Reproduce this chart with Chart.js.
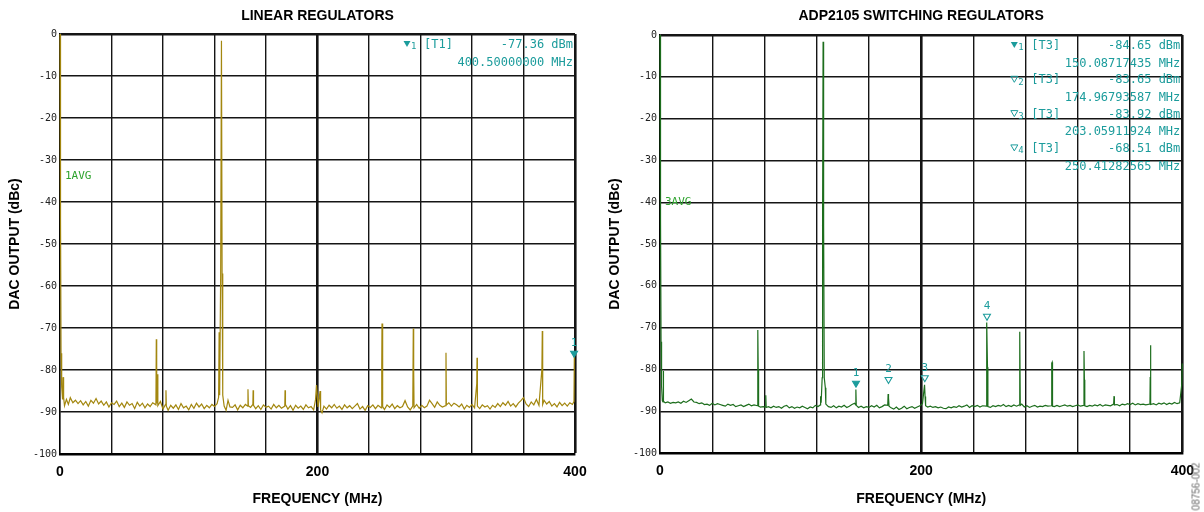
<!DOCTYPE html>
<html>
<head>
<meta charset="utf-8">
<script src="https://cdn.jsdelivr.net/npm/chart.js@4.4.0/dist/chart.umd.min.js"></script>
<style>
    body { margin: 0; background: #fff; width: 1204px; height: 512px; position: relative; overflow: hidden; }
    .box { position: absolute; top: 0; height: 512px; }
    #leftBox { left: 0; width: 600px; }
    #rightBox { left: 600px; width: 604px; }
    #figId { position: absolute; left: 1166px; top: 481px; width: 60px; line-height: 14px; text-align: center;
             transform: rotate(-90deg); font: 10px "Liberation Sans", sans-serif; color: #666; }
</style>
</head>
<body>
<div class="box" id="leftBox"><canvas id="leftChart"></canvas></div>
<div class="box" id="rightBox"><canvas id="rightChart"></canvas></div>
<div id="figId">08756-002</div>
<script>
'use strict';

// x grid / labels
const xGridStep = 40;
const xTickLabels = [0, 200, 400];
const yGridStep = 10;

// linear regulators trace: [MHz, dBc]
const leftTrace = [
    [0, 0], [0.4, -44], [0.8, -76], [1.3, -84], [2, -87], [2.4, -81.7], [2.8, -86.5], [3.5, -88.5],
    [5, -87], [6.5, -88.2], [8, -86.6], [10, -87.8], [12, -87.2], [14, -88], [16, -87.3], [18, -88.3],
    [20, -87.5], [22, -88.6], [24, -87.2], [26, -87.9], [28, -86.8], [30, -88.1], [32, -87.4], [34, -88.4],
    [36, -87.6], [38, -88.8], [40, -87.8], [42, -88.2], [44, -87.4], [46, -88.7], [48, -87.9], [50, -88.9],
    [52, -87.6], [54, -88.4], [56, -88], [58, -89.2], [60, -87.7], [62, -88.6], [64, -87.9], [66, -89],
    [68, -88.1], [70, -88.7], [72, -87.8], [74.5, -88.3], [74.8, -72.7], [75.1, -88], [75.6, -81], [76, -88.5],
    [78, -87.5], [80, -89.3], [82, -88.2], [82.3, -84.8], [82.6, -88.6], [84, -89.6], [86, -88.4], [88, -89.1],
    [90, -88.3], [92, -89.4],
    [94, -88], [96, -89], [98, -88.6], [100, -89.5], [102, -88.2], [104, -89.1], [106, -87.9], [108, -88.8],
    [110, -88.1], [112, -89.2], [114, -88.4], [116, -89], [118, -88.2], [120, -88.7], [122, -88],
    [123.2, -86.5], [123.6, -71], [124, -86], [124.8, -57], [125.4, -1.6], [125.9, -57], [126.4, -86],
    [127.5, -88.6], [129, -89.6], [130.5, -87.2], [132, -88.8], [134, -88.9], [136, -88.3], [138, -89.5],
    [140, -88.4], [142, -89], [144, -88.2], [145.8, -88.6], [146, -84.6], [146.3, -88.5], [148, -88.9],
    [149.8, -88.2], [150, -84.8], [150.3, -88.4], [152, -89.2], [154, -88.5], [156, -89.4], [158, -88.3],
    [160, -88.9], [162, -88.6], [164, -89.3], [166, -88.2], [168, -89], [170, -88.4], [172, -89.1],
    [174.6, -88.6], [174.8, -84.8], [175.1, -88.2], [177, -89.3], [179, -88.5], [181, -89.6], [183, -88.4],
    [185, -89.1], [187, -88.6], [189, -89.4], [191, -88.3], [193, -89], [195, -88.7], [197, -89.5],
    [198.5, -87], [199.2, -83.6], [199.8, -86], [200.4, -88.8], [202, -85], [202.4, -89.5], [203.5, -90.2],
    [205, -88.6], [207, -89.3], [209, -88.4], [211, -89], [213, -88.2], [215, -89.1], [217, -88.6],
    [219, -89.4], [221, -88.3], [223, -89], [225, -88.5], [227, -89.2], [229, -88.6], [231, -88],
    [233, -89.3], [235, -88.7], [237, -89.6], [239, -88.5], [241, -88.9], [243, -88.3], [245, -89.2],
    [247, -88.4], [249.5, -89], [249.9, -79.2], [250.1, -68.9], [250.4, -79], [250.8, -88.7], [252, -89.4],
    [254, -88.3], [256, -88.9], [258, -88.1], [260, -89.2], [262, -88.5], [264, -89], [266, -88.7],
    [268, -87.3], [270, -88.8], [272, -89.5], [274, -88.6], [274.4, -70.1], [274.7, -79.8], [275, -89],
    [277, -88.2], [279, -89.1], [281, -88.4], [283, -89], [285, -88.6], [287, -87.2], [289, -88],
    [291, -88.9], [293, -87.6], [295, -88.4], [297, -88.8], [299.5, -88.5], [299.8, -75.9], [300.1, -88.3],
    [302, -87.8], [304, -88.6], [306, -87.9], [308, -88.3], [310, -88.8], [312, -88.1], [314, -89.3],
    [316, -88.4], [318, -88.9], [320, -88.2], [322, -89], [323.7, -83.2], [323.9, -77.1], [324.2, -88.6],
    [326, -89.2], [328, -88.3], [330, -88.8], [332, -88.5], [334, -89.3], [336, -88.4], [338, -88.9],
    [340, -88], [342, -88.7], [344, -87.8], [346, -88.4], [348, -87.5], [350, -88.6], [352, -88],
    [354, -88.8], [356, -87.9], [358, -87.3], [360, -86.6], [362, -88.1], [364, -88.7], [366, -87.6],
    [368, -88.3], [370, -87], [372, -88.4], [374.3, -79.8], [374.6, -70.7], [374.9, -88.2], [376, -87.2],
    [378, -88.1], [380, -87.5], [382, -88.6], [384, -88], [386, -88.8], [388, -87.7], [390, -88.5],
    [392, -87.9], [394, -88.6], [396, -87.8], [398, -88.2], [399.2, -87.5], [399.5, -76.4], [400, -76.4]
];

// ADP2105 switching regulators trace: [MHz, dBc]
const rightTrace = [
    [0, 0], [0.4, -44], [0.8, -73.4], [1.2, -84], [1.8, -87.5], [2.3, -87.8], [2.5, -80.4], [2.8, -87.6],
    [4, -88], [6, -87.8], [8, -88.1], [10, -87.9], [12, -88], [14, -87.8], [16, -88.1], [18, -87.6],
    [20, -87.9], [22, -87.5], [24, -87.1], [26, -87.8], [28, -87.9], [30, -88.2], [32, -88], [34, -88.4],
    [36, -88.3], [38, -88.6], [40, -88.1], [42, -88.5], [44, -88.2], [46, -88.4], [48, -88.6], [50, -88.8],
    [52, -88.3], [54, -88.6], [56, -88.4], [58, -88.9], [60, -88.7], [62, -88.5], [64, -88.9], [66, -88.6],
    [68, -88.3], [70, -88.7], [72, -88.5], [74.6, -88.7], [74.9, -70.6], [75.2, -79.9], [75.5, -88.8],
    [77, -89], [79, -88.9], [80.7, -89], [81, -86.2], [81.3, -89.1], [83, -88.9], [85, -89.2], [87, -88.8],
    [89, -89.1], [91, -88.9], [93, -89.3], [95, -88.8], [97, -88.6], [99, -89.2], [101, -88.9], [103, -89.3],
    [105, -89], [107, -89.2], [109, -88.8], [111, -89.1], [113, -89.4], [115, -89], [117, -89.2],
    [119, -88.6], [121, -88.9], [122.8, -88.5], [123, -86.4], [123.4, -88], [124.2, -82], [124.5, -45.5],
    [124.9, -1.6], [125.3, -45.5], [125.8, -82], [126.6, -84.4], [127, -88.3], [129, -88.9], [131, -89.1],
    [133, -88.7], [135, -89.2], [137, -88.8], [139, -89], [141, -88.6], [143, -89.1], [145, -88.8],
    [147, -88.4], [149, -88.1], [149.8, -88.5], [150, -84.8], [150.3, -88.6], [152, -89.1], [154, -88.8],
    [156, -89.2], [158, -88.9], [160, -89.1], [162, -88.7], [164, -89], [166, -88.6], [168, -89.2],
    [170, -88.9], [172, -88.5], [174.4, -88.6], [174.7, -85.9], [175, -86.8], [175.4, -88.8], [177, -89.2],
    [179, -89.5], [181, -89], [183, -89.6], [185, -89.3], [187, -88.8], [189, -89.4], [191, -89.1],
    [193, -88.9], [195, -89.3], [197, -89], [199, -88.7], [201, -88.2], [202.6, -83.7], [203, -86.5],
    [203.4, -88.7], [205, -89], [207, -88.8], [209, -89.1], [211, -88.9], [213, -89.2], [215, -89],
    [217, -89.3], [219, -89.4], [221, -89], [223, -89.2], [225, -88.9], [227, -89.1], [229, -88.7],
    [231, -89], [233, -88.8], [235, -88.5], [237, -89.1], [239, -88.7], [241, -88.9], [243, -88.6],
    [245, -89], [247, -88.7], [249.8, -88.8], [250, -79.5], [250.4, -68.8], [250.8, -79.5], [251.1, -88.9],
    [253, -89.1], [255, -88.7], [257, -88.9], [259, -88.6], [261, -88.8], [263, -88.4], [265, -88.9],
    [267, -88.6], [269, -88.9], [271, -88.5], [273, -88.8], [275.2, -88.5], [275.4, -80.1], [275.6, -71],
    [275.9, -88.6], [277, -88.3], [279, -89], [281, -88.7], [283, -89.1], [285, -88.8], [287, -88.6],
    [289, -89], [291, -88.8], [293, -88.9], [295, -88.6], [297, -88.8], [299.8, -88.7], [300, -78.5],
    [300.3, -78.3], [300.6, -88.8], [302, -88.9], [304, -88.6], [306, -88.9], [308, -88.7], [310, -88.5],
    [312, -88.8], [314, -88.6], [316, -88.9], [318, -88.7], [320, -88.5], [322, -88.8], [324.5, -88.6],
    [324.7, -75.6], [325, -82.5], [325.3, -88.7], [327, -88.9], [329, -88.6], [331, -88.8], [333, -88.5],
    [335, -88.7], [337, -88.4], [339, -88.8], [341, -88.5], [343, -88.6], [345, -88.7], [347.4, -88.3],
    [347.7, -86.4], [348, -88.5], [350, -88.4], [352, -88.7], [354, -88.3], [356, -88.5], [358, -88.2],
    [360, -88.4], [362, -88.1], [364, -88.5], [366, -88.2], [368, -88.4], [370, -88.3], [372, -88.5],
    [375.2, -88.3], [375.4, -81.8], [375.6, -74.2], [375.9, -88.4], [378, -88.2], [380, -88.5],
    [382, -88.1], [384, -88.3], [386, -88], [388, -88.4], [390, -88.1], [392, -88.3], [394, -87.9],
    [396, -88.2], [398, -88], [399.6, -83.5], [400, -78.6]
];

// marker symbols on the traces: [MHz, dBc, label]
const leftMarkers = [[399.3, -76, '1']];
const rightMarkers = [[150.1, -83.3, '1'], [175, -82.4, '2'], [202.8, -82, '3'], [250.4, -67.3, '4']];

// marker readouts: [number, trace, level, frequency]
const leftReadout = [['1', '[T1]', '-77.36 dBm', '400.50000000 MHz']];
const rightReadout = [
    ['1', '[T3]', '-84.65 dBm', '150.08717435 MHz'],
    ['2', '[T3]', '-83.65 dBm', '174.96793587 MHz'],
    ['3', '[T3]', '-83.92 dBm', '203.05911924 MHz'],
    ['4', '[T3]', '-68.51 dBm', '250.41282565 MHz']
];

const TEAL = '#1c9c9c';
const AVG_GREEN = '#2ea32e';

function toPoints(arr) {
    return arr.map((p) => ({ x: p[0], y: p[1] }));
}

function drawTri(ctx, x, y, filled) {
    ctx.beginPath();
    ctx.moveTo(x - 3.5, y - 3);
    ctx.lineTo(x + 3.5, y - 3);
    ctx.lineTo(x, y + 3);
    ctx.closePath();
    if (filled) { ctx.fill(); } else { ctx.lineWidth = 1; ctx.stroke(); }
}

// analyzer text drawn over the plot
const overlayPlugin = {
    id: 'overlay',
    afterDatasetsDraw(chart, args, opts) {
        const ctx = chart.ctx;
        const a = chart.chartArea;
        const xs = chart.scales.x;
        const ys = chart.scales.y;
        ctx.save();
        ctx.fillStyle = TEAL;
        ctx.strokeStyle = TEAL;
        ctx.textBaseline = 'middle';
        opts.readout.forEach((r, i) => {
            const y1 = a.top + 11 + i * 34.3;
            const y2 = y1 + 17.6;
            drawTri(ctx, a.right - 168, y1 - 1, i == 0);
            ctx.font = '9px "DejaVu Sans Mono"';
            ctx.textAlign = 'left';
            ctx.fillText(r[0], a.right - 164, y1 + 2);
            ctx.font = '12px "DejaVu Sans Mono"';
            ctx.fillText(r[1], a.right - 151, y1);
            ctx.textAlign = 'right';
            ctx.fillText(r[2], a.right - 2, y1);
            ctx.fillText(r[3], a.right - 2, y2);
        });
        ctx.font = '11px "DejaVu Sans Mono"';
        ctx.textAlign = 'center';
        for (const m of opts.markers) {
            ctx.fillText(m[2], xs.getPixelForValue(m[0]), ys.getPixelForValue(m[1]) - 10);
        }
        ctx.fillStyle = AVG_GREEN;
        ctx.textAlign = 'left';
        ctx.fillText(opts.avg[0], a.left + 5, ys.getPixelForValue(opts.avg[1]));
        ctx.restore();
    }
};

function makeChart(id, title, trace, color, markers, readout, avg, pad) {
    const ctx = document.getElementById(id).getContext('2d');
    return new Chart(ctx, {
        type: 'line',
        data: {
            datasets: [
                {
                    type: 'scatter',
                    data: toPoints(markers),
                    pointStyle: 'triangle',
                    rotation: 180,
                    pointRadius: 4,
                    borderWidth: 1.1,
                    borderColor: TEAL,
                    backgroundColor: markers.map((m) => m[2] == '1' ? TEAL : '#fff'),
                    clip: 8
                },
                {
                    data: toPoints(trace),
                    borderColor: color,
                    borderWidth: 1.2,
                    pointRadius: 0,
                    tension: 0,
                    clip: 2
                }
            ]
        },
        options: {
            responsive: false,
            animation: false,
            layout: { padding: { left: 0, right: pad.right, top: 0, bottom: 0 } },
            scales: {
                x: {
                    type: 'linear',
                    min: 0,
                    max: 400,
                    afterFit: (s) => { s.height = pad.xHeight; },
                    afterBuildTicks: (s) => {
                        s.ticks = [];
                        for (let v = 0; v <= 400; v += xGridStep) s.ticks.push({ value: v });
                    },
                    ticks: {
                        autoSkip: false,
                        maxRotation: 0,
                        padding: 10,
                        color: '#000',
                        font: { family: 'Liberation Sans', size: 14, weight: 'bold' },
                        callback: (v) => xTickLabels.includes(v) ? String(v) : ''
                    },
                    grid: {
                        drawTicks: false,
                        color: '#151515',
                        lineWidth: (c) => (c.tick && (c.tick.value == 200 || c.tick.value == 400)) ? 2.6 : 1.4
                    },
                    border: { display: true, color: '#000', width: 2.6 },
                    title: {
                        display: true,
                        text: 'FREQUENCY (MHz)',
                        color: '#000',
                        font: { family: 'Liberation Sans', size: 14, weight: 'bold' },
                        padding: { top: 0, bottom: 4 }
                    }
                },
                y: {
                    min: -100,
                    max: 0,
                    afterFit: (s) => { s.width = 60; },
                    ticks: {
                        stepSize: yGridStep,
                        padding: 3,
                        color: '#222',
                        font: { family: 'DejaVu Sans Mono', size: 10 },
                        callback: (v) => String(v)
                    },
                    grid: {
                        drawTicks: false,
                        color: '#151515',
                        lineWidth: (c) => (c.tick && c.tick.value == 0) ? 2.6 : 1.4
                    },
                    border: { display: true, color: '#000', width: 1.4 },
                    title: {
                        display: true,
                        text: 'DAC OUTPUT (dBc)',
                        color: '#000',
                        font: { family: 'Liberation Sans', size: 14, weight: 'bold' },
                        padding: { top: 7, bottom: 0 }
                    }
                }
            },
            plugins: {
                legend: { display: false },
                tooltip: { enabled: false },
                title: {
                    display: true,
                    fullSize: false,
                    text: title,
                    color: '#000',
                    font: { family: 'Liberation Sans', size: 14, weight: 'bold' },
                    padding: { top: 8, bottom: pad.titleBottom }
                },
                overlay: { readout: readout, markers: markers, avg: avg }
            }
        },
        plugins: [overlayPlugin]
    });
}

document.getElementById('leftChart').width = 600;
document.getElementById('leftChart').height = 512;
document.getElementById('rightChart').width = 604;
document.getElementById('rightChart').height = 512;

makeChart('leftChart', 'LINEAR REGULATORS', leftTrace, '#a3870f', leftMarkers, leftReadout,
    ['1AVG', -33.8], { right: 25, xHeight: 58, titleBottom: 9.2 });
makeChart('rightChart', 'ADP2105 SWITCHING REGULATORS', rightTrace, '#1d6e1d', rightMarkers, rightReadout,
    ['3AVG', -40], { right: 21, xHeight: 59, titleBottom: 10.2 });
</script>
</body>
</html>
